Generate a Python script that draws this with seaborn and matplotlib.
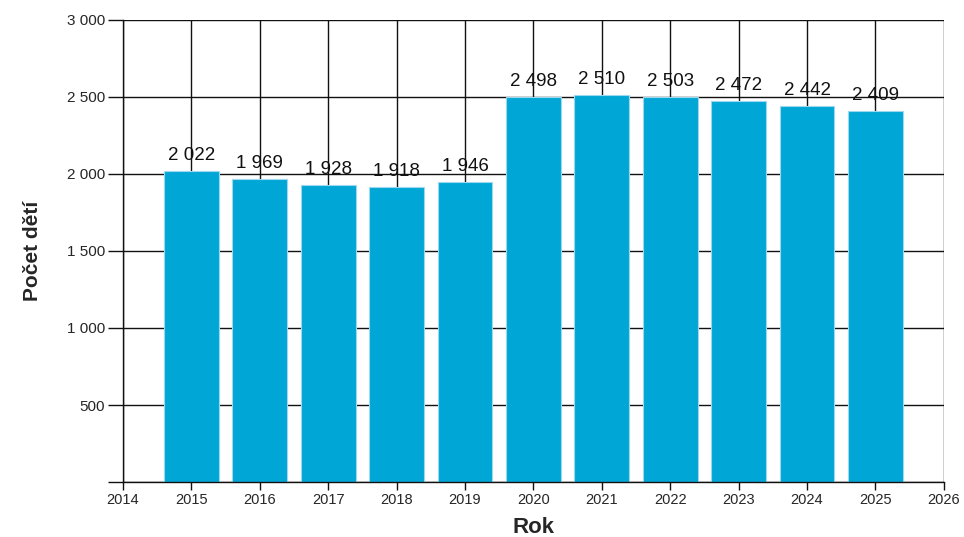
import matplotlib
matplotlib.use("Agg")
import matplotlib.pyplot as plt
import seaborn as sns
import pandas as pd

# data
years = [2015, 2016, 2017, 2018, 2019, 2020, 2021, 2022, 2023, 2024, 2025]
children = [2022, 1969, 1928, 1918, 1946, 2498, 2510, 2503, 2472, 2442, 2409]

df = pd.DataFrame({"Rok": years, "Počet dětí": children})


def fmt(v):
    return f"{int(v):,}".replace(",", " ")


sns.set_style("white")
plt.rcParams["font.family"] = ["Liberation Sans", "DejaVu Sans"]

fig = plt.figure(figsize=(9.64, 5.37), dpi=100)
ax = fig.add_axes([0.1276, 0.1024, 0.8515, 0.8604])

sns.barplot(data=df, x="Rok", y="Počet dětí", native_scale=True, width=0.8,
            color="#00A6D6", saturation=1, edgecolor="#9ed8ee", linewidth=0.8,
            ax=ax, zorder=2)

ax.set_xlim(2014, 2026)
ax.set_ylim(0, 3000)
ax.set_xticks(range(2014, 2027))
ax.set_yticks(range(0, 3001, 500))
ax.set_yticklabels([""] + [fmt(v) for v in range(500, 3001, 500)])

ax.grid(True, color="#111111", linewidth=1.0, zorder=0)
ax.set_axisbelow(True)
for s in ["top", "right"]:
    ax.spines[s].set_visible(False)
for s in ["left", "bottom"]:
    ax.spines[s].set_color("#111111")
    ax.spines[s].set_linewidth(1.0)

ax.tick_params(axis="both", bottom=True, left=True, width=1.0,
               color="#111111", labelsize=11, pad=2)
ax.tick_params(axis="y", length=11)
ax.tick_params(axis="x", length=6, labelsize=10.5)

ax.bar_label(ax.containers[0], labels=[fmt(v) for v in children],
             padding=5, fontsize=13.5, color="#111111", zorder=3)

ax.set_xlabel("Rok", fontsize=16, fontweight="bold", labelpad=7)
ax.set_ylabel("Počet dětí", fontsize=15, fontweight="bold", labelpad=18)

fig.savefig("out.png", dpi=100)
